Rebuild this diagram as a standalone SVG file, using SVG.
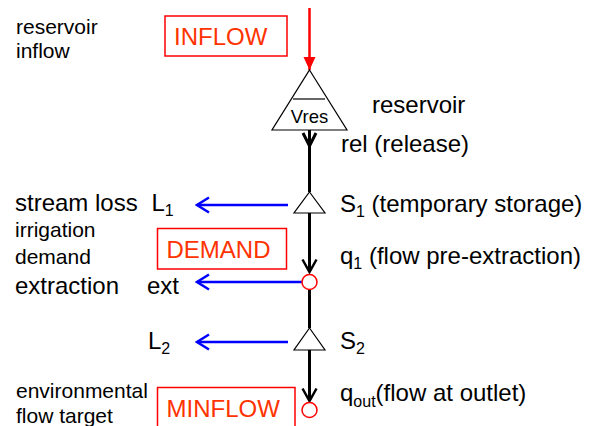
<svg xmlns="http://www.w3.org/2000/svg" width="589" height="426" viewBox="0 0 589 426">
<style>
  text { font-family: "Liberation Sans", Arial, sans-serif; fill: #000; }
  .lbl { font-size: 24px; }
  .sm { font-size: 21px; }
  .sub { font-size: 16px; }
  .box { fill: #fff; stroke: #ff0000; stroke-width: 1.5; }
  .boxt { font-size: 24px; fill: #ff3300; }
  .tri { fill: #fff; stroke: #000; stroke-width: 1.2; }
  .node { fill: #fff; stroke: #ff0000; stroke-width: 1.5; }
  .main { stroke: #000; stroke-width: 3; fill: none; }
  .loss { stroke: #0000ff; stroke-width: 2.5; fill: none; }
  .inflow { stroke: #ff0000; stroke-width: 2.5; fill: none; }
</style>
<defs>
  <marker id="blueHead" viewBox="0 0 16 18" markerWidth="16" markerHeight="18" refX="14" refY="9" orient="auto" markerUnits="userSpaceOnUse">
    <path d="M2,1.5 L14,9 L2,16.5" fill="none" stroke="#0000ff" stroke-width="2.5"/>
  </marker>
  <marker id="blackHead" viewBox="0 0 16 18" markerWidth="16" markerHeight="18" refX="14" refY="9" orient="auto" markerUnits="userSpaceOnUse">
    <path d="M1.5,2 L14,9 L1.5,16" fill="none" stroke="#000" stroke-width="2.5"/>
  </marker>
  <marker id="redHead" viewBox="0 0 14 14" markerWidth="14" markerHeight="14" refX="13" refY="7" orient="auto" markerUnits="userSpaceOnUse">
    <path d="M0,1 L13,7 L0,13 Z" fill="#ff0000"/>
  </marker>
</defs>

<g id="connectors">
  <line class="inflow" x1="309.5" y1="8" x2="309.5" y2="70" marker-end="url(#redHead)"/>
  <line class="main" x1="309.5" y1="130" x2="309.5" y2="192"/>
  <path class="main" d="M303,133 L309.5,146 L316,133" stroke-width="2.5"/>
  <line class="main" x1="309.5" y1="213" x2="309.5" y2="272" marker-end="url(#blackHead)"/>
  <line class="main" x1="309.5" y1="290" x2="309.5" y2="328"/>
  <line class="main" x1="309.5" y1="350" x2="309.5" y2="401" marker-end="url(#blackHead)"/>
  <line class="loss" x1="288" y1="205" x2="197" y2="205" marker-end="url(#blueHead)"/>
  <line class="loss" x1="302" y1="282" x2="197" y2="282" marker-end="url(#blueHead)"/>
  <line class="loss" x1="288" y1="342" x2="197" y2="342" marker-end="url(#blueHead)"/>
</g>

<g id="inflow-box">
  <rect class="box" x="165" y="16" width="122" height="40"/>
  <text class="boxt" x="174" y="45">INFLOW</text>
</g>
<g id="reservoir">
  <polygon class="tri" points="309.5,70 347,130 272,130"/>
  <line x1="293" y1="99" x2="325" y2="99" stroke="#000" stroke-width="1.2"/>
  <text x="309.5" y="122.5" font-size="18.5" text-anchor="middle">Vres</text>
</g>
<g id="s1">
  <polygon class="tri" points="309.5,192 325,213 294,213"/>
</g>
<g id="demand-box">
  <rect class="box" x="157.5" y="228.5" width="129" height="40.5"/>
  <text class="boxt" x="166.5" y="257.5">DEMAND</text>
</g>
<g id="extraction">
  <circle class="node" cx="309.5" cy="282" r="7.5"/>
</g>
<g id="s2">
  <polygon class="tri" points="309.5,328 325,350 294,350"/>
</g>
<g id="minflow-box">
  <rect class="box" x="157.5" y="387.5" width="137.5" height="45"/>
  <text class="boxt" x="166.5" y="417">MINFLOW</text>
</g>
<g id="outlet">
  <circle class="node" cx="309.5" cy="410" r="7.5"/>
</g>

<g id="labels">
  <text class="sm" x="16" y="34">reservoir</text>
  <text class="sm" x="16" y="58">inflow</text>
  <text class="lbl" x="372" y="113">reservoir</text>
  <text class="lbl" x="341" y="152">rel (release)</text>
  <text class="lbl" x="15" y="211">stream loss</text>
  <text class="lbl" x="151.5" y="211">L<tspan class="sub" dy="5">1</tspan></text>
  <text class="lbl" x="340" y="212">S<tspan class="sub" dy="5">1</tspan><tspan dy="-5"> (temporary storage)</tspan></text>
  <text class="sm" x="15" y="237">irrigation</text>
  <text class="sm" x="15" y="264">demand</text>
  <text class="lbl" x="340" y="264">q<tspan class="sub" dy="5">1</tspan><tspan dy="-5"> (flow pre-extraction)</tspan></text>
  <text class="lbl" x="15" y="294">extraction</text>
  <text class="lbl" x="147" y="294">ext</text>
  <text class="lbl" x="148" y="349">L<tspan class="sub" dy="5">2</tspan></text>
  <text class="lbl" x="340" y="349">S<tspan class="sub" dy="5">2</tspan></text>
  <text class="sm" x="16" y="398">environmental</text>
  <text class="sm" x="16" y="423">flow target</text>
  <text class="lbl" x="340" y="401">q<tspan class="sub" dy="6">out</tspan><tspan dy="-6">(flow at outlet)</tspan></text>
</g>
</svg>
